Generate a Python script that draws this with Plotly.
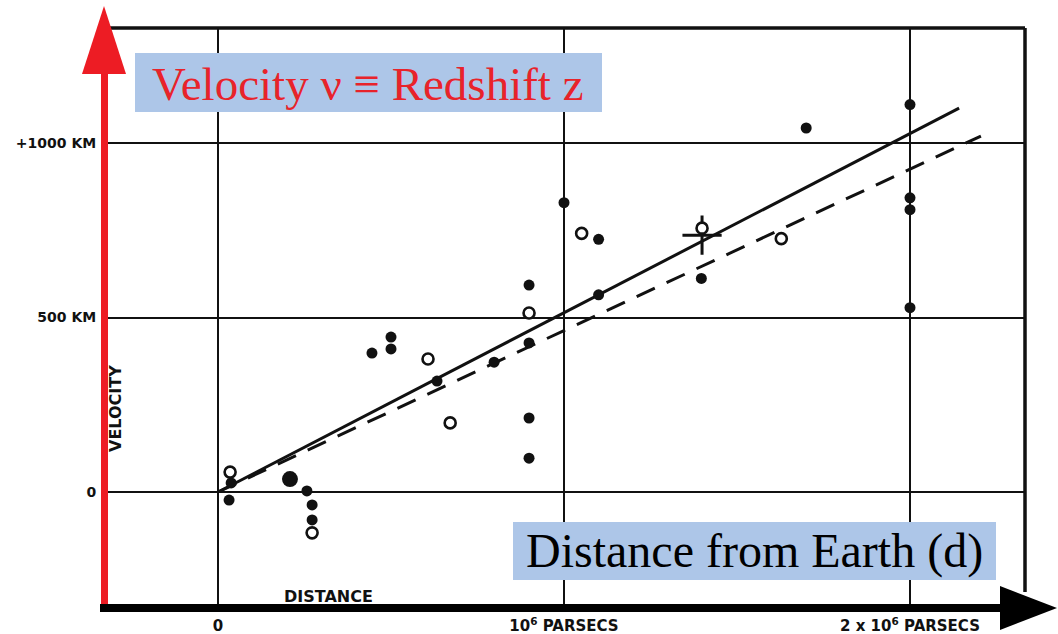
import plotly.graph_objects as go

# Velocity-distance relation of extra-galactic nebulae (Hubble, 1929).
# Distance in units of 10^6 parsecs, velocity in km/s.

# Individual nebulae (filled dots)
neb_dist = [0.032, 0.038, 0.257, 0.272, 0.272, 0.445, 0.500, 0.500, 0.633,
            0.798, 0.899, 0.899, 0.899, 0.899, 1.000, 1.100, 1.100, 1.397,
            1.700, 2.000, 2.000, 2.000, 2.000]
neb_vel = [-23, 26, 3, -37, -80, 398, 444, 410, 318,
           372, 427, 212, 97, 593, 829, 724, 565, 612,
           1043, 1110, 843, 809, 528]

# Large filled dot
big_dist = [0.208]
big_vel = [37]

# Groups (open circles)
grp_dist = [0.035, 0.272, 0.607, 0.671, 0.899, 1.051, 1.399, 1.628]
grp_vel = [57, -117, 381, 198, 513, 741, 756, 726]

# Mean point (cross)
cross_dist = [1.399]
cross_vel = [736]

# Fitted relations: solid (individual nebulae), dashed (groups)
solid_dist = [0.0, 2.142]
solid_vel = [0, 1100]
dashed_dist = [0.0, 2.205]
dashed_vel = [0, 1020]

# Axis ticks
x_ticks = [0, 1, 2]
x_ticktext = ["0", "10<sup>6</sup> PARSECS", "2 x 10<sup>6</sup> PARSECS"]
y_ticks = [0, 500, 1000]
y_ticktext = ["0", "500 KM", "+1000 KM"]

W, H = 1058, 634
L, R, T, B = 103, 1025, 28, 608   # plot frame in pixels


def xp(px):
    return (px - L) / (R - L)


def yp(py):
    return (B - py) / (B - T)


INK = "#111111"
RED = "#ed1c24"
BOX = "#adc6e8"

fig = go.Figure()

fig.add_trace(go.Scatter(x=solid_dist, y=solid_vel, mode="lines",
                         line=dict(color=INK, width=3), hoverinfo="skip"))
fig.add_trace(go.Scatter(x=dashed_dist, y=dashed_vel, mode="lines",
                         line=dict(color=INK, width=3, dash="20px,13px"),
                         hoverinfo="skip"))
fig.add_trace(go.Scatter(x=cross_dist, y=cross_vel, mode="markers",
                         marker=dict(symbol="cross-thin", size=28,
                                     line=dict(color=INK, width=3))))
fig.add_trace(go.Scatter(x=neb_dist, y=neb_vel, mode="markers",
                         marker=dict(symbol="circle", size=11, color=INK)))
fig.add_trace(go.Scatter(x=big_dist, y=big_vel, mode="markers",
                         marker=dict(symbol="circle", size=16, color=INK)))
fig.add_trace(go.Scatter(x=grp_dist, y=grp_vel, mode="markers",
                         marker=dict(symbol="circle", size=11, color="white",
                                     line=dict(color=INK, width=2.6))))

fig.update_layout(
    width=W, height=H,
    margin=dict(l=L, r=W - R, t=T, b=H - B, pad=0, autoexpand=False),
    paper_bgcolor="white", plot_bgcolor="white",
    showlegend=False,
    xaxis=dict(range=[(L - 218) / 346, (R - 218) / 346],
               tickvals=x_ticks, ticktext=x_ticktext,
               showgrid=True, gridcolor=INK, gridwidth=2,
               zeroline=False, showline=False, automargin=False,
               ticks="outside", ticklen=4, tickcolor="rgba(0,0,0,0)",
               tickfont=dict(family="DejaVu Sans", size=15, color=INK,
                             weight="bold"),
               fixedrange=True),
    yaxis=dict(range=[(492 - B) / 0.349, (492 - T) / 0.349],
               tickvals=y_ticks, ticktext=y_ticktext,
               showgrid=True, gridcolor=INK, gridwidth=2,
               zeroline=False, showline=False, automargin=False,
               ticks="outside", ticklen=3, tickcolor="rgba(0,0,0,0)",
               tickfont=dict(family="DejaVu Sans", size=14, color=INK,
                             weight="bold"),
               fixedrange=True),
)

shapes = [
    # frame: top and right edges
    dict(type="line", xref="paper", yref="paper", x0=xp(110), x1=1.0,
         y0=1.0, y1=1.0, line=dict(color=INK, width=3.5)),
    dict(type="line", xref="paper", yref="paper", x0=1.0, x1=1.0,
         y0=1.0, y1=yp(592), line=dict(color=INK, width=3.5)),
    # label boxes
    dict(type="rect", xref="paper", yref="paper", x0=xp(135), x1=xp(602),
         y0=yp(112), y1=yp(53), fillcolor=BOX, line=dict(width=0), layer="above"),
    dict(type="rect", xref="paper", yref="paper", x0=xp(513), x1=xp(996),
         y0=yp(580), y1=yp(522), fillcolor=BOX, line=dict(width=0), layer="above"),
    # red vertical arrow
    dict(type="rect", xref="paper", yref="paper", x0=xp(101), x1=xp(108),
         y0=yp(612), y1=yp(74), fillcolor=RED, line=dict(width=0), layer="above"),
    dict(type="path", xref="paper", yref="paper",
         path=f"M {xp(82)},{yp(74)} L {xp(126)},{yp(74)} L {xp(104)},{yp(6)} Z",
         fillcolor=RED, line=dict(width=0), layer="above"),
    # black horizontal arrow
    dict(type="rect", xref="paper", yref="paper", x0=xp(100), x1=xp(1002),
         y0=yp(612), y1=yp(604), fillcolor="black", line=dict(width=0), layer="above"),
    dict(type="path", xref="paper", yref="paper",
         path=f"M {xp(1000)},{yp(586)} L {xp(1000)},{yp(630)} L {xp(1057)},{yp(608)} Z",
         fillcolor="black", line=dict(width=0), layer="above"),
]
fig.update_layout(shapes=shapes)

serif = "Liberation Serif"
annotations = [
    dict(text="Velocity ν ≡ Redshift z", x=xp(368), y=yp(84),
         font=dict(family=serif, size=47, color="#e8232a")),
    dict(text="Distance from Earth (d)", x=xp(754), y=yp(551),
         font=dict(family=serif, size=48, color="black")),
    dict(text="VELOCITY", x=xp(116), y=yp(409), textangle=-90,
         font=dict(family="DejaVu Sans", size=16, color=INK, weight="bold")),
    dict(text="DISTANCE", x=xp(328), y=yp(596),
         font=dict(family="DejaVu Sans", size=16, color=INK, weight="bold")),
]
for a in annotations:
    a.update(xref="paper", yref="paper", showarrow=False,
             xanchor="center", yanchor="middle")
fig.update_layout(annotations=annotations)

fig.write_html("out.html")
